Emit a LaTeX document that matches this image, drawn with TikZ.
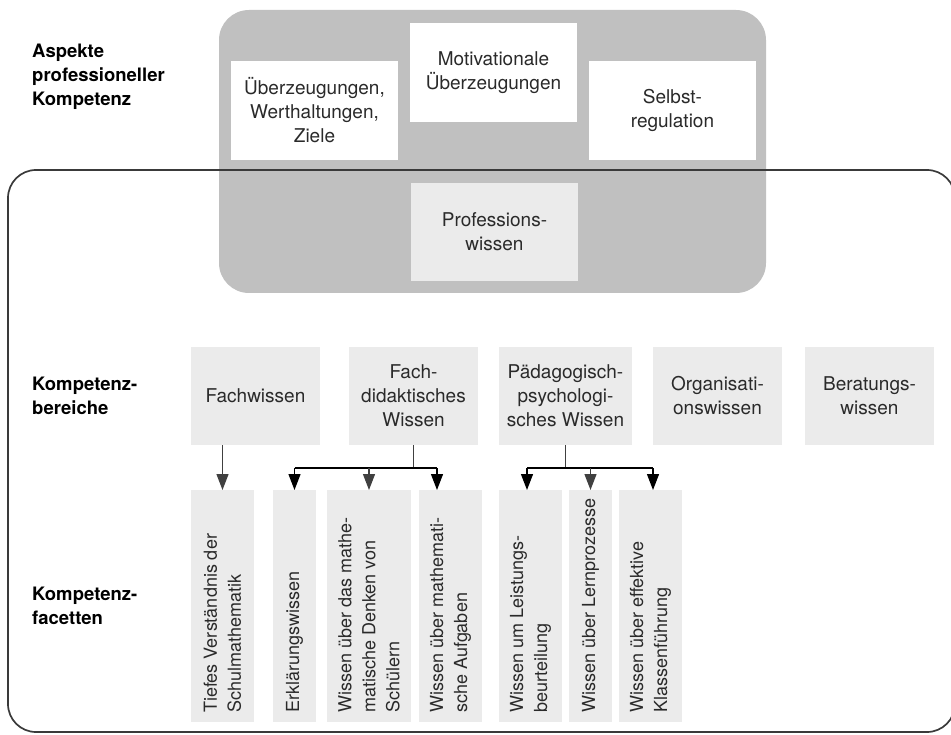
\documentclass[tikz,border=0pt]{standalone}
\usepackage{fontspec}
\setmainfont{TeX Gyre Heros}
\usetikzlibrary{arrows.meta}
\definecolor{areagray}{HTML}{C0C0C0}
\definecolor{boxgray}{HTML}{EBEBEB}
\definecolor{linegray}{HTML}{404040}
\definecolor{framegray}{HTML}{3A3A3A}
\definecolor{txt}{HTML}{2A2A2A}
\begin{document}
\begin{tikzpicture}[x=1pt,y=-1pt,
  txtfont/.style={font=\fontsize{19}{24}\selectfont, text=txt},
  factfont/.style={font=\fontsize{18}{24}\selectfont, text=txt},
  lbl/.style={font=\bfseries\fontsize{18.5}{24}\selectfont, text=black, align=left, anchor=west, inner sep=0pt},
  whitebox/.style={fill=white, inner sep=0pt, outer sep=0pt, align=center, txtfont},
  graybox/.style={fill=boxgray, inner sep=0pt, outer sep=0pt, align=center, txtfont},
  facettxt/.style={rotate=90, anchor=west, align=left, inner sep=0pt, factfont},
  stem/.style={draw=linegray, line width=1.3pt},
  barline/.style={draw=black, line width=1.3pt},
  arrB/.style={draw=black, line width=1.3pt, -{Triangle[length=16pt,width=12pt]}},
  arrG/.style={draw=linegray, line width=1.3pt, -{Triangle[length=16pt,width=12pt]}},
]
\useasboundingbox (0,0) rectangle (951,735);

% grey aspects area
\node[fill=areagray, rounded corners=30pt, minimum width=547pt, minimum height=283pt, inner sep=0pt] (asp) at (492.5,151.5) {};

% top boxes
\node[whitebox, minimum width=167pt, minimum height=99pt] (ueb) at (314.5,110.5) {Überzeugungen,\\Werthaltungen,\\Ziele};
\node[whitebox, minimum width=167pt, minimum height=99pt] (mot) at (493.5,72.5) {Motivationale\\Überzeugungen};
\node[whitebox, minimum width=167pt, minimum height=99pt] (sel) at (672.5,110.5) {Selbst-\\regulation};
\node[graybox, minimum width=167pt, minimum height=98pt] (prof) at (494.5,232) {Professions-\\wissen};

% outer frame
\draw[line width=1.7pt, draw=framegray, rounded corners=28pt] (8,170) rectangle (955,732);

% left labels
\node[lbl] (l1) at (32,77) {Aspekte\\professioneller\\Kompetenz};
\node[lbl] (l2) at (32,396) {Kompetenz-\\bereiche};
\node[lbl] (l3) at (32,606) {Kompetenz-\\facetten};

% competence areas
\node[graybox, minimum width=129pt, minimum height=98pt] (fw) at (255.5,396) {Fachwissen};
\node[graybox, minimum width=129pt, minimum height=98pt] (fd) at (413.5,396) {Fach-\\didaktisches\\Wissen};
\node[graybox, minimum width=133pt, minimum height=98pt] (pp) at (565.5,396) {Pädagogisch-\\psychologi-\\sches Wissen};
\node[graybox, minimum width=129pt, minimum height=98pt] (org) at (717.5,396) {Organisati-\\onswissen};
\node[graybox, minimum width=129pt, minimum height=98pt] (ber) at (869.5,396) {Beratungs-\\wissen};

% facets
\node[graybox, minimum width=63pt, minimum height=232pt] (f1) at (222.5,606) {};
\node[graybox, minimum width=43pt, minimum height=232pt] (f2) at (294.5,606) {};
\node[graybox, minimum width=84pt, minimum height=232pt] (f3) at (369,606) {};
\node[graybox, minimum width=63pt, minimum height=232pt] (f4) at (450.5,606) {};
\node[graybox, minimum width=63pt, minimum height=232pt] (f5) at (530.5,606) {};
\node[graybox, minimum width=43pt, minimum height=232pt] (f6) at (590.5,606) {};
\node[graybox, minimum width=63pt, minimum height=232pt] (f7) at (650.5,606) {};

\node[facettxt] (t1) at ([yshift=9pt]f1.south) {Tiefes Verständnis der\\Schulmathematik};
\node[facettxt] (t2) at ([yshift=9pt]f2.south) {Erklärungswissen};
\node[facettxt] (t3) at ([yshift=9pt]f3.south) {Wissen über das mathe-\\matische Denken von\\Schülern};
\node[facettxt] (t4) at ([yshift=9pt]f4.south) {Wissen über mathemati-\\sche Aufgaben};
\node[facettxt] (t5) at ([yshift=9pt]f5.south) {Wissen um Leistungs-\\beurteilung};
\node[facettxt] (t6) at ([yshift=9pt]f6.south) {Wissen über Lernprozesse};
\node[facettxt] (t7) at ([yshift=9pt]f7.south) {Wissen über effektive\\Klassenführung};

% connectors
\draw[arrG] (f1.north |- fw.south) -- (f1.north);

\coordinate (fdC) at (413.5,468);
\coordinate (fdL) at (294.5,468);
\coordinate (fdM) at (369,468);
\coordinate (fdR) at (437,468);
\draw[stem] (fd.south) -- (fdC);
\draw[barline] (fdL) -- (fdR);
\draw[arrB] (fdL) -- (f2.north);
\draw[arrG] (fdM) -- (f3.north);
\draw[arrB] (fdR) -- (fdR |- f4.north);

\coordinate (ppC) at (565.5,468);
\coordinate (ppL) at (527,468);
\coordinate (ppM) at (590.5,468);
\coordinate (ppR) at (653,468);
\draw[stem] (pp.south) -- (ppC);
\draw[barline] (ppL) -- (ppR);
\draw[arrB] (ppL) -- (ppL |- f5.north);
\draw[arrG] (ppM) -- (f6.north);
\draw[arrB] (ppR) -- (ppR |- f7.north);
\end{tikzpicture}
\end{document}
